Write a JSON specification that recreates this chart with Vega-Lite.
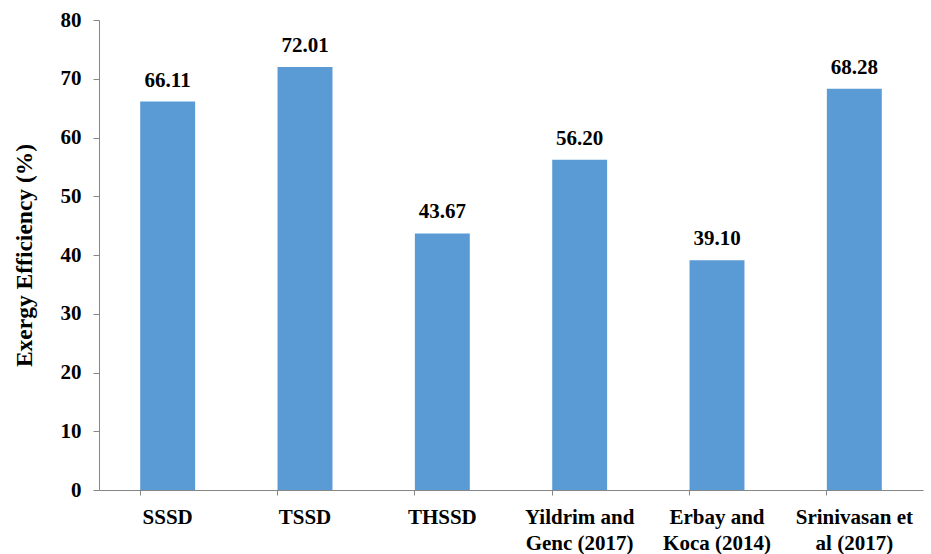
{
  "$schema": "https://vega.github.io/schema/vega-lite/v6.json",
  "autosize": {"type": "none"},
  "width": 824,
  "height": 470,
  "padding": {"left": 99, "top": 20, "right": 8, "bottom": 64},
  "background": "white",
  "config": {
    "view": {"stroke": null},
    "font": "'Liberation Serif', 'Times New Roman', Times, serif"
  },
  "data": {
    "values": [
      {"dryer": "SSSD", "efficiency": 66.11},
      {"dryer": "TSSD", "efficiency": 72.01},
      {"dryer": "THSSD", "efficiency": 43.67},
      {"dryer": "Yildrim and|Genc (2017)", "efficiency": 56.20},
      {"dryer": "Erbay and|Koca (2014)", "efficiency": 39.10},
      {"dryer": "Srinivasan et|al (2017)", "efficiency": 68.28}
    ]
  },
  "encoding": {
    "x": {
      "field": "dryer",
      "type": "nominal",
      "sort": null,
      "scale": {"paddingInner": 0.6, "paddingOuter": 0.3},
      "axis": {
        "title": null,
        "labelAngle": 0,
        "labelExpr": "split(datum.label, '|')",
        "labelFont": "'Liberation Serif', 'Times New Roman', Times, serif",
        "labelFontWeight": "bold",
        "labelFontSize": 21,
        "labelColor": "black",
        "labelLineHeight": 26,
        "labelPadding": 11,
        "bandPosition": 0,
        "tickSize": 5,
        "tickColor": "#868686",
        "domainColor": "#868686",
        "domainWidth": 1
      }
    },
    "y": {
      "field": "efficiency",
      "type": "quantitative",
      "scale": {"domain": [0, 80]},
      "axis": {
        "title": "Exergy Efficiency (%)",
        "titleFont": "'Liberation Serif', 'Times New Roman', Times, serif",
        "titleFontWeight": "bold",
        "titleFontSize": 23.5,
        "titleColor": "black",
        "titlePadding": 24,
        "values": [0, 10, 20, 30, 40, 50, 60, 70, 80],
        "grid": false,
        "labelFont": "'Liberation Serif', 'Times New Roman', Times, serif",
        "labelFontWeight": "bold",
        "labelFontSize": 21,
        "labelColor": "black",
        "labelPadding": 12,
        "tickSize": 6,
        "tickColor": "#868686",
        "domainColor": "#868686"
      }
    }
  },
  "layer": [
    {
      "mark": {"type": "bar", "color": "#5B9BD5"}
    },
    {
      "mark": {
        "type": "text",
        "baseline": "bottom",
        "dy": -11,
        "font": "'Liberation Serif', 'Times New Roman', Times, serif",
        "fontWeight": "bold",
        "fontSize": 21,
        "color": "black"
      },
      "encoding": {
        "text": {"field": "efficiency", "type": "quantitative", "format": ".2f"}
      }
    }
  ]
}
